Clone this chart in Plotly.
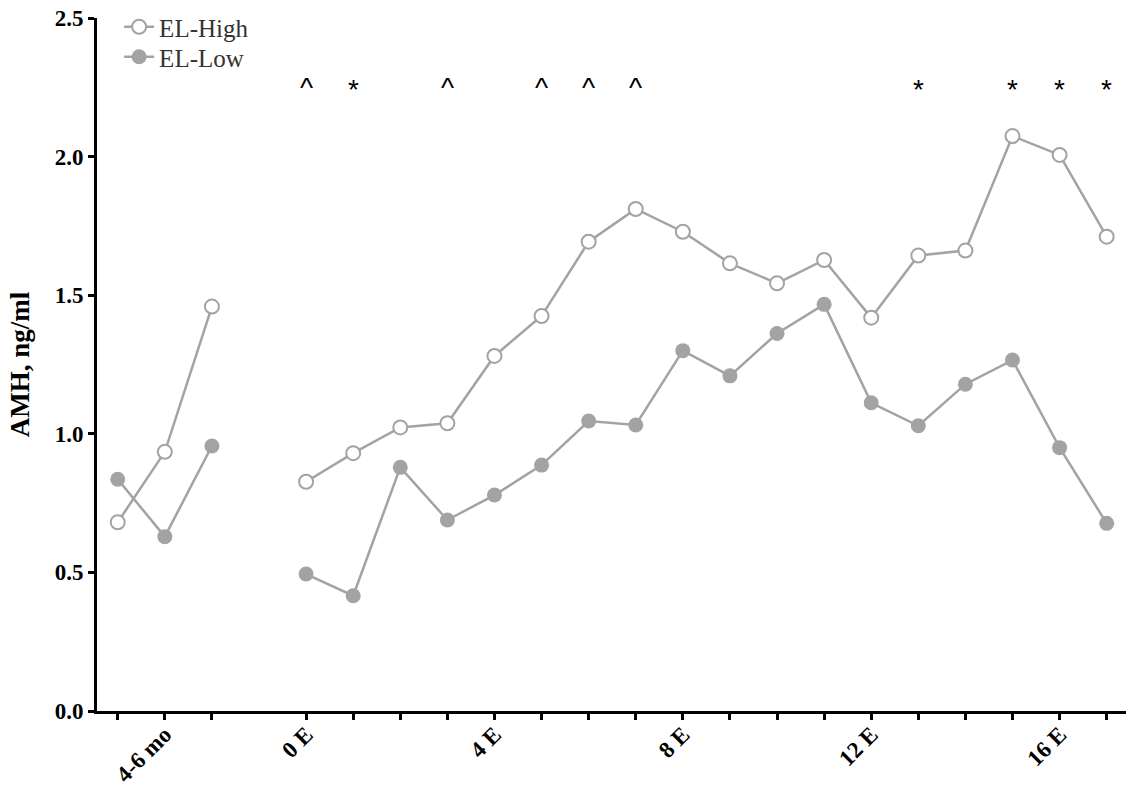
import plotly.graph_objects as go

# ---- data ----
baseline_x = [-4, -3, -2]
e_x = list(range(0, 18))

high_baseline = [0.681, 0.935, 1.459]
low_baseline = [0.836, 0.629, 0.956]

high_e = [0.827, 0.930, 1.023, 1.038, 1.281, 1.425, 1.693, 1.811, 1.729,
          1.615, 1.543, 1.627, 1.419, 1.643, 1.661, 2.074, 2.006, 1.711]
low_e = [0.494, 0.416, 0.879, 0.689, 0.779, 0.887, 1.046, 1.032, 1.300,
         1.209, 1.362, 1.467, 1.112, 1.029, 1.179, 1.266, 0.950, 0.677]

tick_positions = baseline_x + e_x
tick_labels = {-3: "4-6 mo", 0: "0 E", 4: "4 E", 8: "8 E", 12: "12 E", 16: "16 E"}

sig_x = [0, 1, 3, 5, 6, 7, 13, 15, 16, 17]
sig_marks = ["^", "*", "^", "^", "^", "^", "*", "*", "*", "*"]
sig_level = 2.258

y_ticks = [0.0, 0.5, 1.0, 1.5, 2.0, 2.5]

# ---- styles ----
GRAY = "#A3A3A6"
SERIF = "Liberation Serif"

x_all = baseline_x + [None] + e_x
high_all = high_baseline + [None] + high_e
low_all = low_baseline + [None] + low_e

fig = go.Figure()
fig.add_trace(go.Scatter(
    x=x_all, y=high_all, name="EL-High", mode="lines+markers",
    line=dict(color=GRAY, width=2.5),
    marker=dict(symbol="circle", size=14, color="white", line=dict(color=GRAY, width=2)),
    connectgaps=False, legend="legend",
))
fig.add_trace(go.Scatter(
    x=x_all, y=low_all, name="EL-Low", mode="lines+markers",
    line=dict(color=GRAY, width=2.5),
    marker=dict(symbol="circle", size=15, color=GRAY, line=dict(color=GRAY, width=0)),
    connectgaps=False, legend="legend2",
))

for xv, m in zip(sig_x, sig_marks):
    fig.add_annotation(
        x=xv, y=sig_level, xref="x", yref="y", text=m, showarrow=False,
        font=dict(family="Liberation Sans", size=28, color="black"),
        yshift=-2 if m == "^" else -4,
    )

legend_style = dict(
    xanchor="left", yanchor="middle",
    font=dict(family=SERIF, size=25, color="#333333"),
    bgcolor="rgba(0,0,0,0)", itemwidth=30,
)

fig.update_layout(
    width=1126, height=786,
    margin=dict(l=97, r=0, t=18, b=75),
    plot_bgcolor="white", paper_bgcolor="white",
    showlegend=True,
    legend=dict(x=0.0215, y=0.987, **legend_style),
    legend2=dict(x=0.0215, y=0.9437, **legend_style),
)

fig.update_xaxes(
    range=[-4.44, 17.41],
    automargin=False,
    showgrid=False, zeroline=False,
    showline=True, linecolor="black", linewidth=3,
    ticks="outside", ticklen=6, tickwidth=3, tickcolor="black",
    tickvals=tick_positions,
    ticktext=[tick_labels.get(v, "") for v in tick_positions],
    tickangle=-45,
    ticklabelstandoff=-8,
    tickfont=dict(family=SERIF, size=23, color="black", weight="bold"),
)
fig.update_yaxes(
    range=[0, 2.5],
    automargin=False,
    showgrid=False, zeroline=False,
    showline=True, linecolor="black", linewidth=3,
    ticks="outside", ticklen=6, tickwidth=3, tickcolor="black",
    tickvals=y_ticks, ticktext=[f"{v:.1f}" for v in y_ticks],
    tickfont=dict(family=SERIF, size=23, color="black", weight="bold"),
    title=dict(text="AMH, ng/ml", font=dict(family=SERIF, size=27, color="black", weight="bold"), standoff=18),
)

fig.write_html("out.html")
